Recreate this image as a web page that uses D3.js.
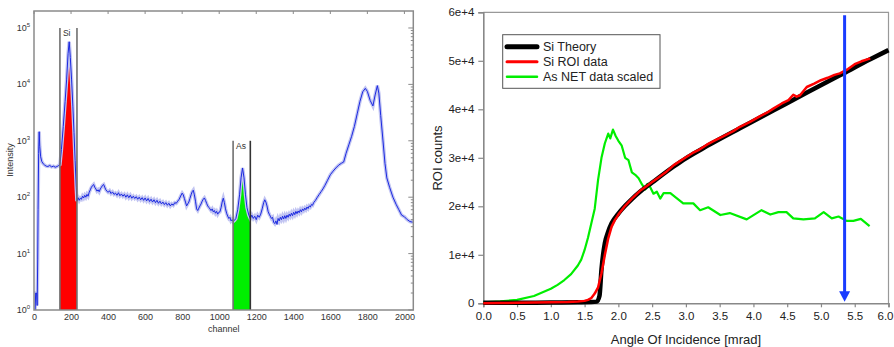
<!DOCTYPE html>
<html>
<head>
<meta charset="utf-8">
<script src="https://cdn.jsdelivr.net/npm/d3@7/dist/d3.min.js"></script>
<style>
  body { margin: 0; background: #fff; }
  svg { font-family: 'Liberation Sans', Arial, sans-serif; }
</style>
</head>
<body>
<svg id="chart" width="894" height="347"></svg>
<script>
// ---- left panel: energy spectrum (log scale), [channel, counts] ----
const spectrumPoints = [
  [6, 1], [9, 2], [14, 2], [17, 1.2], [20, 8], [22, 60], [25, 600], [28, 1450], [31, 800], [36, 520], [42, 430],
  [50, 390], [58, 370], [66, 355], [75, 350], [85, 365], [95, 345], [105, 355], [115, 340], [125, 350], [133, 365],
  [140, 380], [148, 700], [158, 1800], [168, 5000], [176, 12000], [184, 35000], [190, 57000], [196, 30000],
  [203, 12000], [210, 4000], [216, 1400], [222, 450], [228, 150],
  [232, 85], [238, 98], [244, 88], [250, 96], [256, 92], [262, 104], [268, 97], [274, 108], [280, 100], [286, 112],
  [292, 104], [298, 122], [304, 135], [310, 150], [316, 160], [322, 168], [328, 150], [334, 140], [340, 128],
  [346, 135], [352, 125], [358, 140], [364, 150], [370, 162], [376, 168], [382, 150], [388, 135], [394, 128],
  [400, 122], [408, 130], [416, 116], [424, 124], [432, 112], [440, 118], [448, 108], [456, 120], [464, 106],
  [472, 114], [480, 104], [488, 112], [496, 100], [504, 110], [512, 98], [520, 108], [528, 96], [536, 104],
  [544, 95], [552, 102], [560, 92], [568, 100], [576, 90], [584, 98], [592, 88], [600, 97], [608, 86], [616, 95],
  [624, 84], [632, 92], [640, 82], [648, 90], [656, 80], [664, 88], [672, 78], [680, 85], [688, 76], [696, 82],
  [704, 74], [712, 80], [720, 72], [728, 78], [736, 70], [744, 76], [752, 72], [760, 80], [768, 78], [776, 85],
  [784, 92], [792, 105], [800, 118], [806, 110], [812, 95], [818, 82], [824, 70], [830, 76], [836, 82], [842, 95],
  [848, 110], [854, 125], [860, 133], [866, 110], [872, 85], [878, 62], [884, 58], [890, 64], [896, 70], [902, 76],
  [908, 85], [914, 92], [920, 97], [926, 88], [932, 78], [938, 70], [944, 66], [950, 62], [956, 58], [962, 62],
  [968, 55], [974, 58], [980, 52], [986, 56], [992, 50], [998, 54], [1004, 55], [1010, 65], [1016, 82], [1022, 96],
  [1028, 80], [1034, 62], [1040, 52], [1046, 46], [1052, 42], [1058, 44], [1064, 38], [1070, 40],
  [1075, 37], [1083, 39], [1090, 42], [1100, 60], [1110, 110], [1118, 220], [1126, 330], [1134, 220], [1142, 110],
  [1150, 65], [1160, 48], [1168, 42],
  [1176, 48], [1184, 42], [1192, 46], [1200, 40], [1208, 48], [1216, 44], [1224, 50], [1232, 62], [1240, 80],
  [1246, 90], [1252, 82], [1258, 70], [1264, 56], [1270, 50], [1276, 46], [1282, 42], [1288, 44], [1294, 36],
  [1300, 34], [1306, 38], [1312, 33], [1318, 42], [1324, 38], [1330, 44], [1336, 40], [1342, 46], [1348, 41],
  [1354, 47], [1360, 42], [1366, 48], [1372, 44], [1378, 50], [1384, 46], [1390, 52], [1396, 47], [1402, 54],
  [1408, 49], [1414, 56], [1420, 51], [1426, 57], [1432, 53], [1438, 60], [1444, 55], [1450, 62], [1456, 58],
  [1462, 64], [1468, 60], [1474, 67], [1480, 63], [1486, 70], [1492, 67], [1498, 74], [1504, 72], [1510, 80],
  [1520, 88], [1530, 100], [1540, 112], [1550, 125], [1560, 140], [1570, 160], [1585, 200], [1600, 250],
  [1615, 290], [1630, 330], [1645, 370], [1660, 400], [1672, 420], [1685, 600], [1700, 850], [1715, 1200],
  [1730, 1800], [1745, 3000], [1760, 5000], [1775, 7400], [1789, 8500], [1800, 7500], [1815, 5200], [1830, 4150],
  [1842, 6500], [1854, 9500], [1862, 7000], [1872, 2800], [1884, 1030], [1895, 400], [1905, 220], [1920, 150],
  [1938, 100], [1955, 75], [1970, 60], [1985, 48], [2000, 45], [2015, 40], [2030, 37], [2045, 36]
]
const siRoi = [140, 232]
const asRoi = [1075, 1168]
const channelTicks = [0, 200, 400, 600, 800, 1000, 1200, 1400, 1600, 1800, 2000]
const decadeTicks = [1, 10, 100, 1000, 10000, 100000]

// ---- right panel: angle scan ----
const theoryAngle = [0, 0.5, 1.0, 1.4, 1.6, 1.68, 1.72, 1.75, 1.8, 1.85, 1.9, 2.0, 2.1, 2.2, 2.32, 2.5, 2.82,
  3.0, 3.31, 3.8, 4.3, 4.8, 5.28, 5.73, 6.0]
const theoryCounts = [100, 120, 150, 200, 250, 350, 1500, 7000, 12400, 14800, 16500, 18500, 20100, 21500, 23000,
  24900, 28200, 29900, 32400, 36100, 39800, 43500, 47000, 50300, 52200]
const roiAngle = [0, 0.25, 0.5, 0.75, 1.0, 1.25, 1.4, 1.5, 1.55, 1.6, 1.65, 1.7, 1.75, 1.8, 1.85, 1.9, 1.95, 2.0,
  2.1, 2.2, 2.32, 2.4, 2.5, 2.6, 2.7, 2.82, 2.9, 3.0, 3.1, 3.2, 3.31, 3.4, 3.55, 3.7, 3.8, 3.95, 4.1, 4.2, 4.3,
  4.42, 4.52, 4.59, 4.64, 4.69, 4.79, 4.9, 5.0, 5.1, 5.2, 5.28, 5.4, 5.5, 5.6, 5.73]
const roiCounts = [0, 50, 100, 150, 200, 260, 350, 500, 700, 1100, 2000, 3300, 6200, 10000, 13400, 15800, 17200, 18300,
  20100, 21600, 23200, 24000, 25000, 26000, 27000, 28500, 29200, 30100, 31000, 31700, 32700, 33400, 34400, 35500, 36400,
  37400, 38600, 39300, 40200, 41200, 41900, 43000, 42600, 42900, 44600, 45300, 46000, 46500, 47100, 47400, 48300,
  49300, 49900, 50500]
const asAngle = [0, 0.25, 0.5, 0.75, 1.0, 1.1, 1.2, 1.3, 1.4, 1.45, 1.5, 1.55, 1.6, 1.65, 1.7, 1.75, 1.8, 1.85, 1.88,
  1.92, 1.96, 2.0, 2.05, 2.1, 2.15, 2.2, 2.25, 2.3, 2.35, 2.4, 2.43, 2.47, 2.52, 2.57, 2.62, 2.67, 2.77, 2.96,
  3.11, 3.21, 3.33, 3.51, 3.65, 3.9, 4.12, 4.25, 4.37, 4.49, 4.59, 4.74, 4.91, 5.04, 5.16, 5.26, 5.38, 5.48,
  5.59, 5.72]
const asCounts = [200, 400, 700, 1500, 3000, 3800, 4800, 6000, 7800, 9000, 11000, 13500, 16500, 19500, 25500, 30000,
  33000, 35000, 34000, 35800, 34500, 33500, 32500, 30000, 29500, 27000, 26500, 25800, 24500, 23500, 24600, 24000,
  22600, 23000, 21600, 22700, 22700, 20600, 20600, 19200, 19800, 18200, 18600, 17300, 19200, 18300, 18800, 18800,
  17500, 17300, 17500, 18800, 17500, 17900, 17000, 17000, 17400, 15900]
const angleTicks = [0, 0.5, 1, 1.5, 2, 2.5, 3, 3.5, 4, 4.5, 5, 5.5, 6]
const countTicks = [0, 10000, 20000, 30000, 40000, 50000, 60000]
const countTickLabels = ['0', '1e+4', '2e+4', '3e+4', '4e+4', '5e+4', '6e+4']
const markerAngle = 5.35
const markerTop = 59400
const legendLabels = ['Si Theory', 'Si ROI data', 'As NET data scaled']
const legendColors = ['#000000', '#ff0000', '#00ee00']

const svg = d3.select('#chart')

// ================= LEFT PANEL =================
const L = { left: 34, right: 413.3, top: 11, bottom: 310 }
const xCh = d3.scaleLinear([0, 2048], [L.left, L.right])
const yLog = d3.scaleLog([1, 200000], [L.bottom, L.top])
const spectrum = spectrumPoints.map(([c, v]) => ({ c, v }))

svg.append('defs').append('clipPath').attr('id', 'clipL')
  .append('rect').attr('x', L.left).attr('y', L.top)
  .attr('width', L.right - L.left).attr('height', L.bottom - L.top)

const left = svg.append('g')

const roiArea = d3.area()
  .x((d) => xCh(d.c))
  .y0(L.bottom)
  .y1((d) => yLog(d.v))

left.append('path')
  .datum(spectrum.filter((d) => d.c >= siRoi[0] && d.c <= siRoi[1]))
  .attr('d', roiArea).attr('fill', '#ff0000')
left.append('path')
  .datum(spectrum.filter((d) => d.c >= asRoi[0] && d.c <= asRoi[1]))
  .attr('d', roiArea).attr('fill', '#00ee00')

const specLine = d3.line().x((d) => xCh(d.c)).y((d) => yLog(d.v))
const specG = left.append('g').attr('clip-path', 'url(#clipL)')
specG.append('path').datum(spectrum).attr('d', specLine)
  .attr('fill', 'none').attr('stroke', '#c2c5f2').attr('stroke-width', 3.5)
specG.append('path').datum(spectrum).attr('d', specLine)
  .attr('fill', 'none').attr('stroke', '#1a28e0').attr('stroke-width', 1)

// ROI markers
const roiMarks = [
  { range: siRoi, top: 100000, label: 'Si', colors: ['#707070', '#707070'] },
  { range: asRoi, top: 1000, label: 'As', colors: ['#707070', '#333'] }
]
roiMarks.forEach((r) => {
  r.range.forEach((c, i) => {
    left.append('line')
      .attr('x1', xCh(c)).attr('x2', xCh(c))
      .attr('y1', yLog(r.top)).attr('y2', L.bottom)
      .attr('stroke', r.colors[i]).attr('stroke-width', 1.6)
  })
  left.append('text')
    .attr('x', xCh(r.range[0]) + 3).attr('y', yLog(r.top) + 8)
    .attr('font-size', 8.5).attr('fill', '#333').text(r.label)
})

// frame
left.append('rect')
  .attr('x', L.left).attr('y', L.top)
  .attr('width', L.right - L.left).attr('height', L.bottom - L.top)
  .attr('fill', 'none').attr('stroke', '#8a8a8a').attr('stroke-width', 1.5)

// x axis
const xAxisL = left.append('g')
  .attr('transform', `translate(0,${ L.bottom })`)
  .call(d3.axisBottom(xCh).tickValues(channelTicks).tickFormat(d3.format('d')).tickSize(0).tickPadding(4))
xAxisL.select('.domain').remove()
xAxisL.selectAll('text').attr('font-size', 9).attr('fill', '#333')
  .attr('font-family', "'Liberation Sans', Arial, sans-serif")

// top ticks
left.append('g').selectAll('line').data(channelTicks).join('line')
  .attr('x1', (d) => xCh(d)).attr('x2', (d) => xCh(d))
  .attr('y1', L.top).attr('y2', L.top + 3)
  .attr('stroke', '#8a8a8a')

// y axis labels with superscripts
const yLab = left.append('g').selectAll('text').data(decadeTicks).join('text')
  .attr('x', L.left - 4).attr('y', (d) => yLog(d) + 3)
  .attr('text-anchor', 'end').attr('font-size', 9).attr('fill', '#333')
yLab.append('tspan').text('10')
yLab.append('tspan').attr('dy', -4).attr('font-size', 6).text((d) => Math.round(Math.log10(d)))

// right-side minor/major ticks
const minor = []
decadeTicks.forEach((d) => { for (let m = 2; m <= 9; m++) if (d * m < 200000) minor.push(d * m) })
left.append('g').selectAll('line').data(minor).join('line')
  .attr('x1', L.right).attr('x2', L.right - 2.5)
  .attr('y1', (d) => yLog(d)).attr('y2', (d) => yLog(d))
  .attr('stroke', '#8a8a8a')
left.append('g').selectAll('line').data(decadeTicks).join('line')
  .attr('x1', L.right).attr('x2', L.right - 5)
  .attr('y1', (d) => yLog(d)).attr('y2', (d) => yLog(d))
  .attr('stroke', '#8a8a8a')

left.append('text')
  .attr('x', (L.left + L.right) / 2).attr('y', 332)
  .attr('text-anchor', 'middle').attr('font-size', 9).attr('fill', '#333').text('channel')
left.append('text')
  .attr('transform', `translate(13,${ 160 }) rotate(-90)`)
  .attr('text-anchor', 'middle').attr('font-size', 9).attr('fill', '#333').text('Intensity')

// ================= RIGHT PANEL =================
const R = { left: 483.3, right: 888.5, top: 12.3, bottom: 303.3 }
const xAng = d3.scaleLinear([0, 6], [R.left, R.right])
const yCnt = d3.scaleLinear([0, 60000], [R.bottom, R.top])
const right = svg.append('g')

// frame top/right
right.append('path')
  .attr('d', `M${ R.left },${ R.top }H${ R.right }V${ R.bottom }`)
  .attr('fill', 'none').attr('stroke', '#999').attr('stroke-width', 1.2)

const yAxisR = right.append('g')
  .attr('transform', `translate(${ R.left },0)`)
  .call(d3.axisLeft(yCnt).tickValues(countTicks).tickFormat((d, i) => countTickLabels[i]).tickSize(5).tickPadding(4))
const xAxisR = right.append('g')
  .attr('transform', `translate(0,${ R.bottom })`)
  .call(d3.axisBottom(xAng).tickValues(angleTicks).tickFormat(d3.format('.1f')).tickSize(4).tickPadding(5))
;[yAxisR, xAxisR].forEach((a) => {
  a.select('.domain').attr('stroke', '#888').attr('stroke-width', 1.6)
  a.selectAll('.tick line').attr('stroke', '#888').attr('stroke-width', 1.2)
  a.selectAll('.tick text').attr('font-size', 11.5).attr('fill', '#222')
    .attr('font-family', "'Liberation Sans', Arial, sans-serif")
})
// keep the last x label inside the page edge
xAxisR.selectAll('.tick text').filter((d) => d === 6)
  .attr('text-anchor', 'end').attr('x', 893 - R.right)

const angLine = d3.line().x((d) => xAng(d[0])).y((d) => yCnt(d[1]))
const toPairs = (xs, ys) => xs.map((x, i) => [x, ys[i]])

right.append('path').datum(toPairs(asAngle, asCounts)).attr('d', angLine)
  .attr('fill', 'none').attr('stroke', legendColors[2]).attr('stroke-width', 2.2).attr('stroke-linejoin', 'round')
right.append('path').datum(toPairs(theoryAngle, theoryCounts)).attr('d', angLine.curve(d3.curveMonotoneX))
  .attr('fill', 'none').attr('stroke', legendColors[0]).attr('stroke-width', 4.5).attr('stroke-linejoin', 'round')
angLine.curve(d3.curveLinear)
right.append('path').datum(toPairs(roiAngle, roiCounts)).attr('d', angLine)
  .attr('fill', 'none').attr('stroke', legendColors[1]).attr('stroke-width', 2.5).attr('stroke-linejoin', 'round')

// marker arrow
const ax = xAng(markerAngle)
right.append('line')
  .attr('x1', ax).attr('x2', ax)
  .attr('y1', yCnt(markerTop)).attr('y2', R.bottom - 10)
  .attr('stroke', '#1a3cff').attr('stroke-width', 3)
right.append('path')
  .attr('d', `M${ ax - 5.5 },${ R.bottom - 12 }L${ ax + 5.5 },${ R.bottom - 12 }L${ ax },${ R.bottom - 1.5 }Z`)
  .attr('fill', '#1a3cff')

// legend
const lg = right.append('g')
lg.append('rect')
  .attr('x', 502.7).attr('y', 34.7).attr('width', 157.3).attr('height', 53.6)
  .attr('fill', '#fff').attr('stroke', '#555').attr('stroke-width', 1)
const lgWidths = [5, 3, 2.5]
legendLabels.forEach((t, i) => {
  const y = 46.7 + i * 15
  lg.append('line').attr('x1', 507).attr('x2', 537).attr('y1', y).attr('y2', y)
    .attr('stroke', legendColors[i]).attr('stroke-width', lgWidths[i]).attr('stroke-linecap', 'round')
  lg.append('text').attr('x', 543).attr('y', y + 4.5)
    .attr('font-size', 12.5).attr('fill', '#222').text(t)
})

right.append('text')
  .attr('x', (R.left + R.right) / 2).attr('y', 344)
  .attr('text-anchor', 'middle').attr('font-size', 13).attr('fill', '#222').text('Angle Of Incidence [mrad]')
right.append('text')
  .attr('transform', `translate(442,${ 158 }) rotate(-90)`)
  .attr('text-anchor', 'middle').attr('font-size', 13).attr('fill', '#222').text('ROI counts')
</script>
</body>
</html>
